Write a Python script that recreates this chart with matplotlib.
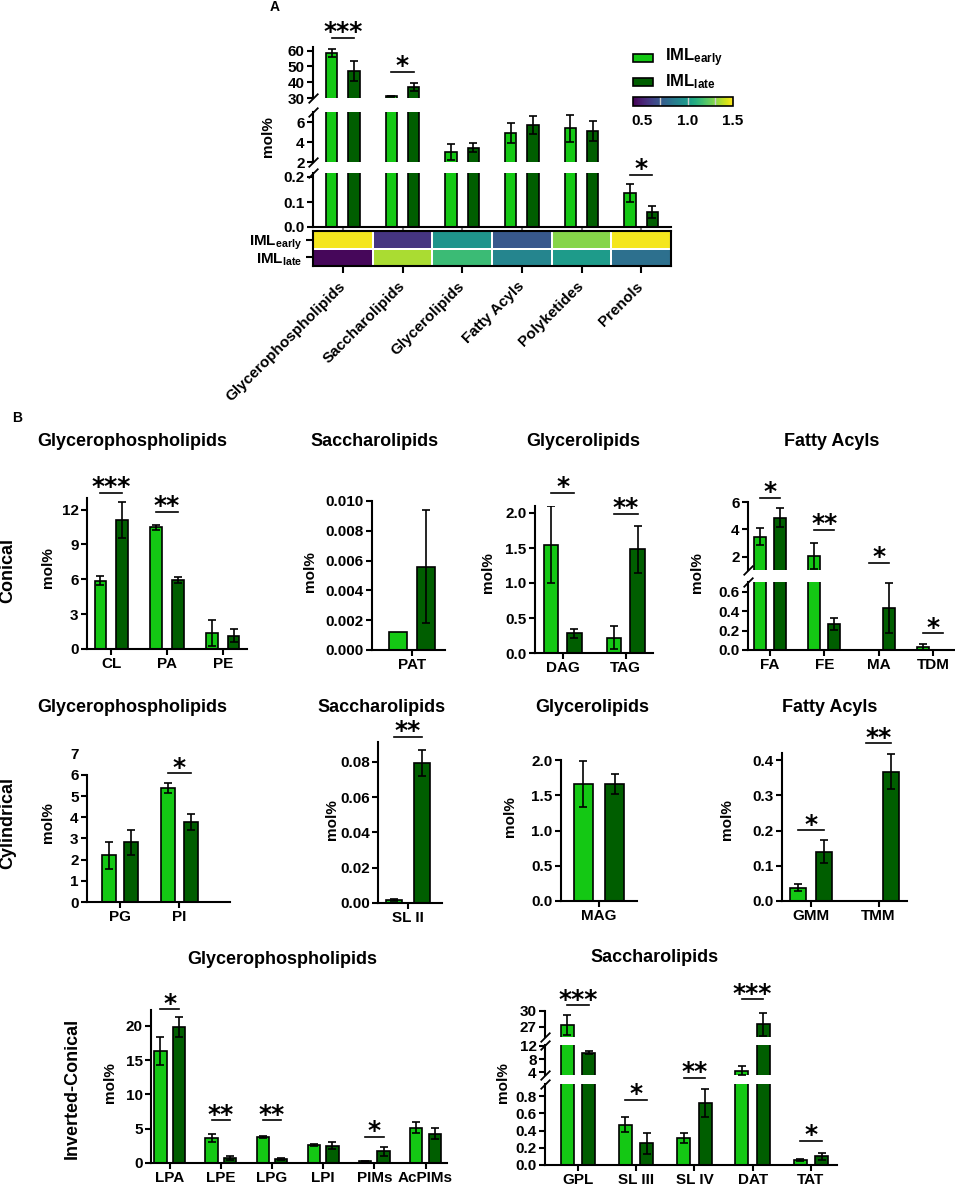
import numpy as np
import matplotlib
matplotlib.use('Agg')
import matplotlib.pyplot as plt
import matplotlib.transforms as mtransforms
from matplotlib.patches import Rectangle
from matplotlib.cm import ScalarMappable
from matplotlib.colors import Normalize

plt.rcParams['font.family'] = ['Liberation Sans', 'DejaVu Sans']
plt.rcParams['font.weight'] = 'bold'
plt.rcParams['axes.labelweight'] = 'bold'
plt.rcParams['mathtext.fontset'] = 'custom'
plt.rcParams['mathtext.rm'] = 'Liberation Sans:bold'
plt.rcParams['mathtext.it'] = 'Liberation Sans:bold'
plt.rcParams['mathtext.bf'] = 'Liberation Sans:bold'

C_EARLY = '#14c814'
C_LATE = '#005e00'
EARLY = r'IML$_{\rm early}$'
LATE = r'IML$_{\rm late}$'

# ---- panel A: lipid classes ----
classes = ['Glycerophospholipids', 'Saccharolipids', 'Glycerolipids',
           'Fatty Acyls', 'Polyketides', 'Prenols']
a_early = [58.7, 31.0, 3.03, 4.93, 5.37, 0.135]
a_early_err = [2.5, 0.4, 0.8, 1.0, 1.33, 0.036]
a_late = [47.1, 37.2, 3.43, 5.7, 5.1, 0.06]
a_late_err = [6.4, 2.5, 0.43, 0.9, 1.03, 0.024]
heat_early = [1.48, 0.57, 0.97, 0.70, 1.30, 1.48]
heat_late = [0.42, 1.36, 1.15, 0.90, 1.00, 0.80]

# ---- panel B, conical ----
con_gpl = ['CL', 'PA', 'PE']
con_gpl_early = [5.87, 10.47, 1.36]
con_gpl_early_err = [0.4, 0.2, 1.1]
con_gpl_late = [11.08, 5.97, 1.15]
con_gpl_late_err = [1.55, 0.25, 0.55]

con_sl = ['PAT']
con_sl_early = [0.0012]
con_sl_early_err = [0.0]
con_sl_late = [0.0056]
con_sl_late_err = [0.0038]

con_gl = ['DAG', 'TAG']
con_gl_early = [1.55, 0.22]
con_gl_early_err = [0.55, 0.16]
con_gl_late = [0.28, 1.48]
con_gl_late_err = [0.06, 0.33]

con_fa = ['FA', 'FE', 'MA', 'TDM']
con_fa_early = [3.48, 2.07, 0.0, 0.028]
con_fa_early_err = [0.6, 0.93, 0.0, 0.03]
con_fa_late = [4.86, 0.27, 0.43, 0.0]
con_fa_late_err = [0.68, 0.06, 0.26, 0.0]

# ---- cylindrical ----
cyl_gpl = ['PG', 'PI']
cyl_gpl_early = [2.21, 5.37]
cyl_gpl_early_err = [0.63, 0.25]
cyl_gpl_late = [2.81, 3.76]
cyl_gpl_late_err = [0.6, 0.38]

cyl_sl = ['SL II']
cyl_sl_early = [0.0015]
cyl_sl_early_err = [0.0005]
cyl_sl_late = [0.0794]
cyl_sl_late_err = [0.0072]

cyl_gl = ['MAG']
cyl_gl_early = [1.66]
cyl_gl_early_err = [0.33]
cyl_gl_late = [1.66]
cyl_gl_late_err = [0.14]

cyl_fa = ['GMM', 'TMM']
cyl_fa_early = [0.038, 0.0]
cyl_fa_early_err = [0.01, 0.0]
cyl_fa_late = [0.14, 0.367]
cyl_fa_late_err = [0.033, 0.05]

# ---- inverted-conical ----
inv_gpl = ['LPA', 'LPE', 'LPG', 'LPI', 'PIMs', 'AcPIMs']
inv_gpl_early = [16.3, 3.63, 3.78, 2.6, 0.25, 5.13]
inv_gpl_early_err = [2.0, 0.6, 0.15, 0.15, 0.05, 0.8]
inv_gpl_late = [19.85, 0.68, 0.58, 2.5, 1.7, 4.26]
inv_gpl_late_err = [1.45, 0.3, 0.2, 0.5, 0.7, 0.77]

inv_sl = ['GPL', 'SL III', 'SL IV', 'DAT', 'TAT']
inv_sl_early = [27.3, 0.47, 0.31, 4.4, 0.055]
inv_sl_early_err = [1.9, 0.09, 0.06, 1.45, 0.01]
inv_sl_late = [9.9, 0.25, 0.72, 27.5, 0.10]
inv_sl_late_err = [0.5, 0.12, 0.16, 2.2, 0.04]

W, H = 955, 1190
fig = plt.figure(figsize=(W / 100, H / 100), dpi=100)


def add_px(x0, y0, x1, y1):
    # rectangle given in pixels, origin top-left
    return fig.add_axes([x0 / W, 1 - y1 / H, (x1 - x0) / W, (y1 - y0) / H])


def ftext(x, y, s, **kw):
    kw.setdefault('ha', 'center')
    kw.setdefault('va', 'center')
    fig.text(x / W, 1 - y / H, s, **kw)


def style(ax, bottom=True, size=11):
    for s in ['top', 'right']:
        ax.spines[s].set_visible(False)
    ax.spines['left'].set_linewidth(1.5)
    ax.spines['bottom'].set_linewidth(1.5)
    ax.tick_params(width=1.5, length=4, labelsize=size, pad=2)
    if not bottom:
        ax.spines['bottom'].set_visible(False)
        ax.tick_params(axis='x', bottom=False, labelbottom=False)


def bars(ax, early, e_err, late, l_err, off, width):
    x = np.arange(len(early))
    early = np.asarray(early)
    late = np.asarray(late)
    ax.bar(x - off, early, width, color=C_EARLY, edgecolor='k', linewidth=1.2, zorder=2)
    ax.bar(x + off, late, width, color=C_LATE, edgecolor='k', linewidth=1.2, zorder=2)
    for xs, v, e in [(x - off, early, np.asarray(e_err)), (x + off, late, np.asarray(l_err))]:
        m = e > 0
        ax.errorbar(xs[m], v[m], yerr=e[m], fmt='none', ecolor='k',
                    elinewidth=1.2, capsize=3, capthick=1.2, zorder=3)


def sig(ax, x, off, y, stars):
    ax.plot([x - off, x + off], [y, y], color='k', lw=1.2, clip_on=False)
    ax.annotate(stars, xy=(x, y), xytext=(0, -1.0), textcoords='offset points',
                ha='center', va='baseline', fontsize=18, fontweight='bold',
                family='DejaVu Sans', annotation_clip=False)


def brk(ax, where):
    # small diagonal break mark on the left spine
    y = 0 if where == 'bottom' else 1
    ax.plot([0], [y], transform=ax.transAxes, marker=[(-1, -1), (1, 1)],
            markersize=7, linestyle='none', color='k', mec='k', mew=1.3, clip_on=False)


def cat_axis(ax, labels, xlim):
    ax.set_xlim(*xlim)
    ax.set_xticks(np.arange(len(labels)))
    ax.set_xticklabels(labels, fontsize=11, fontweight='bold')


# ================= panel A =================
ftext(275, 7, 'A', fontsize=10, fontweight='bold')
off_a, w_a = 0.185, 0.19
AX0, AX1 = 313, 671
a_top = add_px(AX0, 47, AX1, 98)
a_mid = add_px(AX0, 112, AX1, 162)
a_bot = add_px(AX0, 173, AX1, 227)
for ax, lim, ticks, bottom in [(a_top, (30, 62.3), [30, 40, 50, 60], False),
                               (a_mid, (2, 7), [2, 4, 6], False),
                               (a_bot, (0, 0.216), [0.0, 0.1, 0.2], True)]:
    bars(ax, a_early, a_early_err, a_late, a_late_err, off_a, w_a)
    ax.set_ylim(*lim)
    ax.set_yticks(ticks)
    ax.set_xlim(-0.5, 5.5)
    style(ax, bottom=bottom)
a_bot.set_yticklabels(['0.0', '0.1', '0.2'])
a_bot.set_xticks(np.arange(6))
a_bot.tick_params(axis='x', labelbottom=False, length=3, color='0.5')
brk(a_top, 'bottom')
brk(a_mid, 'top')
brk(a_mid, 'bottom')
brk(a_bot, 'top')
sig(a_top, 0, off_a, 68, '***')
sig(a_top, 1, off_a, 46.7, '*')
sig(a_bot, 5, off_a, 0.21, '*')
ftext(268, 137, 'mol%', rotation=90, fontsize=11, fontweight='bold')

# heatmap under the bars
norm = Normalize(0.4, 1.5)
a_heat = add_px(AX0, 231, AX1, 266)
a_heat.pcolormesh(np.arange(7) - 0.5, [0, 1, 2], np.array([heat_early, heat_late]),
                  cmap='viridis', norm=norm, edgecolors='white', linewidth=1.2)
a_heat.set_ylim(2, 0)
a_heat.set_xlim(-0.5, 5.5)
a_heat.set_yticks([0.5, 1.5])
a_heat.set_yticklabels([EARLY, LATE], fontsize=11)
a_heat.set_xticks(np.arange(6))
a_heat.set_xticklabels(classes, rotation=45, ha='right', va='center',
                       rotation_mode='anchor', fontsize=11)
shift = mtransforms.ScaledTranslation(9 / 100, 0, fig.dpi_scale_trans)
for lab in a_heat.get_xticklabels():
    lab.set_transform(lab.get_transform() + shift)
for s in a_heat.spines.values():
    s.set_linewidth(1.5)
a_heat.tick_params(width=1.5, length=5, pad=3)
a_heat.tick_params(axis='x', pad=8)

# legend drawn in figure pixels
for (yc, col, lab) in [(57.5, C_EARLY, EARLY), (81.5, C_LATE, LATE)]:
    fig.add_artist(Rectangle((633 / W, 1 - (yc + 4) / H), 20 / W, 8 / H,
                             transform=fig.transFigure, facecolor=col,
                             edgecolor='k', linewidth=1.2))
    ftext(665, yc, lab, ha='left', fontsize=12)

cax = add_px(633, 97, 733, 106)
cb = fig.colorbar(ScalarMappable(norm=norm, cmap='viridis'), cax=cax, orientation='horizontal')
cb.set_ticks([0.5, 1.0, 1.5])
cb.ax.tick_params(length=0, labelsize=11, pad=6)
cb.outline.set_linewidth(1.2)
for v in (0.7, 1.0, 1.3):
    cax.axvline(v, color='0.8', lw=1)

# ================= panel B =================
ftext(17, 418, 'B', fontsize=10, fontweight='bold')
ftext(8, 570, 'Conical', rotation=90, fontsize=13)
ftext(8, 823, 'Cylindrical', rotation=90, fontsize=13)
ftext(72, 1088, 'Inverted-Conical', rotation=90, fontsize=13)

for x, y, t in [(132, 442, 'Glycerophospholipids'), (375, 442, 'Saccharolipids'),
                (583, 442, 'Glycerolipids'), (832, 442, 'Fatty Acyls'),
                (132, 708, 'Glycerophospholipids'), (382, 708, 'Saccharolipids'),
                (592, 707, 'Glycerolipids'), (830, 707, 'Fatty Acyls'),
                (282, 960, 'Glycerophospholipids'), (655, 957, 'Saccharolipids')]:
    ftext(x, y, t, fontsize=13, fontweight='bold')

for x, y in [(48, 568), (310, 572), (488, 573), (697, 573),
             (48, 823), (332, 820), (510, 817), (727, 820),
             (110, 1083), (503, 1083)]:
    ftext(x, y, 'mol%', rotation=90, fontsize=11, fontweight='bold')

# conical / glycerophospholipids
ax = add_px(87, 498, 247, 649)
bars(ax, con_gpl_early, con_gpl_early_err, con_gpl_late, con_gpl_late_err, 0.19, 0.21)
ax.set_ylim(0, 13)
ax.set_yticks([0, 3, 6, 9, 12])
cat_axis(ax, con_gpl, (-0.43, 2.43))
style(ax)
sig(ax, 0, 0.19, 13.47, '***')
sig(ax, 1, 0.19, 11.83, '**')

# conical / saccharolipids
ax = add_px(372, 501, 445, 650)
bars(ax, con_sl_early, con_sl_early_err, con_sl_late, con_sl_late_err, 0.25, 0.31)
ax.set_ylim(0, 0.010)
ax.set_yticks(np.arange(6) * 0.002)
ax.set_yticklabels(['0.000', '0.002', '0.004', '0.006', '0.008', '0.010'])
cat_axis(ax, con_sl, (-0.71, 0.59))
style(ax)

# conical / glycerolipids
ax = add_px(535, 506, 653, 653)
bars(ax, con_gl_early, con_gl_early_err, con_gl_late, con_gl_late_err, 0.185, 0.23)
ax.set_ylim(0, 2.1)
ax.set_yticks([0, 0.5, 1.0, 1.5, 2.0])
ax.set_yticklabels(['0.0', '0.5', '1.0', '1.5', '2.0'])
cat_axis(ax, con_gl, (-0.44, 1.43))
style(ax)
sig(ax, 0, 0.185, 2.29, '*')
sig(ax, 1, 0.185, 1.99, '**')

# conical / fatty acyls (broken axis)
up = add_px(748, 502, 955, 570)
lo = add_px(748, 582, 955, 650)
for a in (up, lo):
    bars(a, con_fa_early, con_fa_early_err, con_fa_late, con_fa_late_err, 0.184, 0.22)
    a.set_xlim(-0.405, 3.4)
up.set_ylim(1.05, 6)
up.set_yticks([2, 4, 6])
style(up, bottom=False)
lo.set_ylim(0, 0.7)
lo.set_yticks([0, 0.2, 0.4, 0.6])
lo.set_yticklabels(['0.0', '0.2', '0.4', '0.6'])
cat_axis(lo, con_fa, (-0.405, 3.4))
style(lo)
brk(up, 'bottom')
brk(lo, 'top')
sig(up, 0, 0.184, 6.31, '*')
sig(up, 1, 0.184, 3.96, '**')
sig(up, 2, 0.184, 1.59, '*')
sig(lo, 3, 0.184, 0.17, '*')

# cylindrical / glycerophospholipids
ax = add_px(87, 753, 230, 902)
bars(ax, cyl_gpl_early, cyl_gpl_early_err, cyl_gpl_late, cyl_gpl_late_err, 0.19, 0.23)
ax.set_ylim(0, 7.03)
ax.set_yticks(np.arange(8))
cat_axis(ax, cyl_gpl, (-0.555, 1.85))
style(ax)
ax.spines['left'].set_bounds(0, 6)
ax.yaxis.get_major_ticks()[-1].tick1line.set_visible(False)
sig(ax, 1, 0.19, 6.08, '*')

# cylindrical / saccharolipids
ax = add_px(378, 742, 442, 903)
bars(ax, cyl_sl_early, cyl_sl_early_err, cyl_sl_late, cyl_sl_late_err, 0.25, 0.29)
ax.set_ylim(0, 0.0913)
ax.set_yticks(np.arange(5) * 0.02)
ax.set_yticklabels(['0.00', '0.02', '0.04', '0.06', '0.08'])
cat_axis(ax, cyl_sl, (-0.536, 0.607))
style(ax)
sig(ax, 0, 0.25, 0.0942, '**')

# cylindrical / glycerolipids
ax = add_px(561, 760, 637, 901)
bars(ax, cyl_gl_early, cyl_gl_early_err, cyl_gl_late, cyl_gl_late_err, 0.28, 0.35)
ax.set_ylim(0, 2.0)
ax.set_yticks([0, 0.5, 1.0, 1.5, 2.0])
ax.set_yticklabels(['0.0', '0.5', '1.0', '1.5', '2.0'])
cat_axis(ax, cyl_gl, (-0.68, 0.68))
style(ax)

# cylindrical / fatty acyls
ax = add_px(782, 753, 907, 901)
bars(ax, cyl_fa_early, cyl_fa_early_err, cyl_fa_late, cyl_fa_late_err, 0.19, 0.237)
ax.set_ylim(0, 0.42)
ax.set_yticks([0, 0.1, 0.2, 0.3, 0.4])
ax.set_yticklabels(['0.0', '0.1', '0.2', '0.3', '0.4'])
cat_axis(ax, cyl_fa, (-0.43, 1.42))
style(ax)
sig(ax, 0, 0.19, 0.201, '*')
sig(ax, 1, 0.19, 0.448, '**')

# inverted-conical / glycerophospholipids
ax = add_px(151, 1010, 447, 1163)
bars(ax, inv_gpl_early, inv_gpl_early_err, inv_gpl_late, inv_gpl_late_err, 0.18, 0.24)
ax.set_ylim(0, 22.3)
ax.set_yticks([0, 5, 10, 15, 20])
cat_axis(ax, inv_gpl, (-0.365, 5.42))
style(ax)
sig(ax, 0, 0.18, 22.4, '*')
sig(ax, 1, 0.18, 6.2, '**')
sig(ax, 2, 0.18, 6.2, '**')
sig(ax, 4, 0.18, 3.8, '*')

# inverted-conical / saccharolipids (three segments)
d_top = add_px(545, 1011, 837, 1037)
d_mid = add_px(545, 1045, 837, 1075)
d_bot = add_px(545, 1084, 837, 1165)
for a, lim, ticks, bottom in [(d_top, (25.1, 30), [27, 30], False),
                              (d_mid, (3.1, 12.3), [4, 8, 12], False),
                              (d_bot, (0, 0.94), [0, 0.2, 0.4, 0.6, 0.8], True)]:
    bars(a, inv_sl_early, inv_sl_early_err, inv_sl_late, inv_sl_late_err, 0.185, 0.223)
    a.set_ylim(*lim)
    a.set_yticks(ticks)
    a.set_xlim(-0.567, 4.45)
    style(a, bottom=bottom)
d_bot.set_yticklabels(['0.0', '0.2', '0.4', '0.6', '0.8'])
cat_axis(d_bot, inv_sl, (-0.567, 4.45))
brk(d_top, 'bottom')
brk(d_mid, 'top')
brk(d_mid, 'bottom')
brk(d_bot, 'top')
sig(d_top, 0, 0.185, 31.1, '***')
sig(d_top, 3, 0.185, 32.2, '***')
sig(d_bot, 1, 0.185, 0.756, '*')
sig(d_bot, 2, 0.185, 1.01, '**')
sig(d_bot, 4, 0.185, 0.28, '*')

fig.savefig('out.png', dpi=100)
